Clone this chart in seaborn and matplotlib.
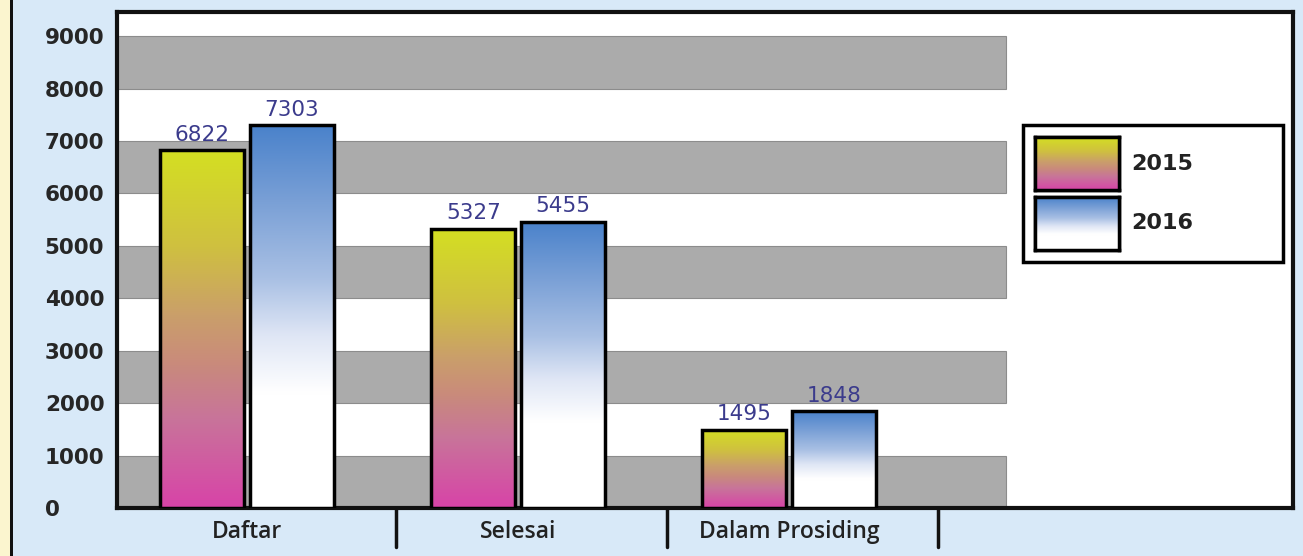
import numpy as np
import pandas as pd
import matplotlib
matplotlib.use('Agg')
import matplotlib.pyplot as plt
import matplotlib.transforms as mtransforms
from matplotlib.colors import LinearSegmentedColormap
from matplotlib.patches import Rectangle
import seaborn as sns

# Data
kategori = ['Daftar', 'Selesai', 'Dalam Prosiding']
tahun = ['2015', '2016']
nilai_2015 = [6822, 5327, 1495]
nilai_2016 = [7303, 5455, 1848]
yticks = list(range(0, 10000, 1000))

df = pd.DataFrame({
    'Kategori': kategori * 2,
    'Tahun': [tahun[0]] * len(kategori) + [tahun[1]] * len(kategori),
    'Jumlah': nilai_2015 + nilai_2016,
})

# Gradien untuk batang (bawah -> atas)
cmap_2015 = LinearSegmentedColormap.from_list('c15', [
    (0.0, '#d843a8'), (0.25, '#c8749a'), (0.4, '#c98a7c'),
    (0.54, '#ca9f6a'), (0.73, '#cfc040'), (1.0, '#d4df22')])
cmap_2016 = LinearSegmentedColormap.from_list('c16', [
    (0.0, '#ffffff'), (0.3, '#ffffff'), (0.45, '#dfe6f5'),
    (0.6, '#a9c0e4'), (0.8, '#7aa0d6'), (1.0, '#4a82cb')])
cmaps = [cmap_2015, cmap_2016]
gradien = np.linspace(0, 1, 256).reshape(-1, 1)

sns.set_style('white')
plt.rcParams['font.family'] = ['DejaVu Sans']

fig = plt.figure(figsize=(13.03, 5.56), dpi=100, facecolor='#d8e9f8')
ax = fig.add_axes([117 / 1303, 48 / 556, 1176 / 1303, 496 / 556])
ax.set_facecolor('white')

# Strip kiri
fig.patches.append(Rectangle((0, 0), 10 / 1303, 1, transform=fig.transFigure,
                             facecolor='#fbf5cf', edgecolor='none'))
fig.patches.append(Rectangle((10 / 1303, 0), 3 / 1303, 1, transform=fig.transFigure,
                             facecolor='#111111', edgecolor='none'))

# Pita abu-abu
for lo in range(0, 9000, 2000):
    ax.add_patch(Rectangle((-1, lo), 3.80, 1000, facecolor='#ababab',
                           edgecolor='#8c8c8c', linewidth=0.8, zorder=1))

sns.barplot(data=df, x='Kategori', y='Jumlah', hue='Tahun',
            palette=['#d4e020', '#4a82cb'], width=0.66, gap=0.06,
            edgecolor='black', linewidth=2.5, legend=False, ax=ax, zorder=3)

for cont, cmap in zip(ax.containers, cmaps):
    for p in cont:
        x0, w, h = p.get_x(), p.get_width(), p.get_height()
        ax.imshow(gradien, cmap=cmap, extent=[x0, x0 + w, 0, h], origin='lower',
                  aspect='auto', zorder=2.9, interpolation='bicubic')
        p.set_facecolor('none')
    ax.bar_label(cont, padding=4, color='#3b3b8c', fontsize=15.5)

ax.set_xlim(-0.48, 3.86)
ax.set_ylim(0, 9460)
ax.set_xlabel('')
ax.set_ylabel('')

ax.set_yticks(yticks)
ax.set_yticklabels([str(v) for v in yticks], fontweight='bold', color='#262626', fontsize=15.5)
for t in ax.get_yticklabels():
    t.set_horizontalalignment('left')
ax.tick_params(axis='y', length=0, pad=52)

ax.set_xticks(range(len(kategori)))
ax.set_xticklabels(kategori, fontweight='semibold', color='#222222', fontsize=16.5,
                   family=['Open Sans', 'DejaVu Sans'])
ax.tick_params(axis='x', length=0, pad=9)

for s in ax.spines.values():
    s.set_visible(True)
    s.set_color('#111111')
    s.set_linewidth(3)

# Garis pemisah di bawah sumbu
trans = mtransforms.blended_transform_factory(ax.transData, ax.transAxes)
for xv in [0.55, 1.55, 2.55]:
    ax.plot([xv, xv], [0, -0.078], transform=trans, color='#111111', lw=2.5, clip_on=False)

# Legenda
handles = [Rectangle((0, 0), 1, 1, facecolor='none', edgecolor='black', lw=2.5) for _ in tahun]
leg = fig.legend(handles, tahun, loc='upper left',
                 bbox_to_anchor=(1023 / 1303, 1 - 262 / 556, 260 / 1303, 137 / 556),
                 bbox_transform=fig.transFigure, mode='expand', borderaxespad=0,
                 handlelength=3.75, handleheight=3.28, labelspacing=0.3, borderpad=0.55,
                 handletextpad=0.55, fancybox=False, edgecolor='black', framealpha=1,
                 prop={'weight': 'bold', 'size': 16})
leg.get_frame().set_linewidth(2.5)
for t in leg.get_texts():
    t.set_color('#222222')

fig.canvas.draw()
renderer = fig.canvas.get_renderer()
for hp, cmap in zip(leg.legend_handles, cmaps):
    bb = hp.get_window_extent(renderer).transformed(fig.transFigure.inverted())
    axs = fig.add_axes([bb.x0, bb.y0, bb.width, bb.height])
    axs.imshow(gradien, cmap=cmap, origin='lower', aspect='auto', interpolation='bicubic')
    axs.set_xticks([])
    axs.set_yticks([])
    for s in axs.spines.values():
        s.set_color('black')
        s.set_linewidth(2.5)
    axs.set_zorder(10)

fig.savefig('out.png', dpi=100, facecolor=fig.get_facecolor())
